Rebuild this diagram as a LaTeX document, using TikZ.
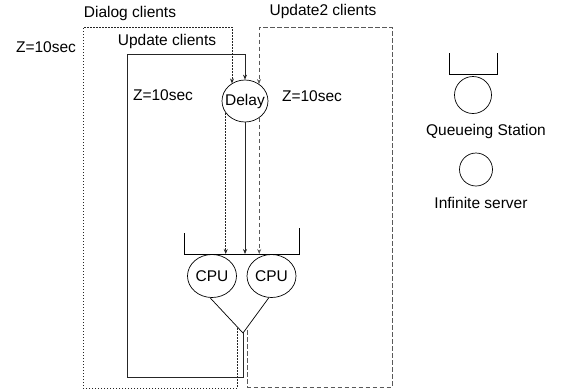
\documentclass[tikz,border=0pt]{standalone}
\usepackage{fontspec}
\setmainfont{Liberation Sans}
\usetikzlibrary{arrows.meta,shapes.geometric}
\begin{document}
\begin{tikzpicture}[x=1pt,y=-1pt,
  font=\fontsize{15.5}{18}\selectfont,
  every path/.style={line width=0.7pt},
  lbl/.style={inner sep=0pt, anchor=base},
  srv/.style={draw, ellipse, inner sep=0pt},
  tip/.style={-{Stealth[length=5pt,width=4pt]}},
  dotln/.style={draw=black!85, dash pattern=on 1.5pt off 1.5pt},
  dashln/.style={draw=black!65, dash pattern=on 4.5pt off 2.5pt},
  solln/.style={draw=black!85}]
\useasboundingbox (0,0) rectangle (570,389);

% labels
\node[lbl] (tdialog) at (130,17) {Dialog clients};
\node[lbl] (tupd) at (167,45) {Update clients};
\node[lbl] (tzl) at (46,52) {Z=10sec};
\node[lbl] (tzm) at (163,100) {Z=10sec};
\node[lbl] (tzr) at (312,101) {Z=10sec};
\node[lbl] (tupd2) at (323,15) {Update2 clients};

% stations
\node[srv, inner xsep=-3.7pt, minimum width=46pt, minimum height=42pt] (delay) at (245,101) {Delay};
\node[srv, minimum width=49pt, minimum height=43pt] (cpu1) at (212,276) {CPU};
\node[srv, minimum width=49pt, minimum height=43pt] (cpu2) at (271.5,276) {CPU};

% queue of CPUs
\coordinate (qtl) at (184,233);
\coordinate (qbl) at (184,254);
\coordinate (qbr) at (299,254);
\coordinate (qtr) at (299,228);
\draw (qtl) -- (qbl) -- (qbr) -- (qtr);

% join
\coordinate (join) at (243,333);
\draw (cpu1.-95) -- (join) -- (cpu2.-97);

% Update clients (solid)
\coordinate (s1) at (243,377);
\coordinate (s2) at (127,377);
\coordinate (s3) at (127,54);
\coordinate (s4) at (245,54);
\draw[solln,tip] (join) -- (s1) -- (s2) -- (s3) -- (s4) -- (delay.north);
\draw[solln,tip] (delay.south) -- (delay.south |- qbl);

% Dialog clients (dotted)
\coordinate (d0) at (237,328);
\coordinate (d1) at (237,388);
\coordinate (d2) at (83,388);
\coordinate (d3) at (83,27);
\coordinate (d4) at (232,27);
\draw[dotln,tip] (d0) -- (d1) -- (d2) -- (d3) -- (d4) -- (d4 |- delay.127);
\draw[dotln,tip] (delay.212) -- (delay.212 |- qbl);

% Update2 clients (dashed)
\coordinate (e0) at (247.5,330);
\coordinate (e1) at (247.5,387);
\coordinate (e2) at (392,387);
\coordinate (e3) at (392,27);
\coordinate (e4) at (259,27);
\draw[dashln,tip] (e0) -- (e1) -- (e2) -- (e3) -- (e4) -- (e4 |- delay.50);
\draw[dashln,tip] (delay.-50) -- (delay.-50 |- qbl);

% legend
\coordinate (la) at (449,53);
\coordinate (lb) at (449,74);
\coordinate (lc) at (497,74);
\coordinate (ld) at (497,53);
\draw (la) -- (lb) -- (lc) -- (ld);
\node[draw, circle, minimum size=37pt, inner sep=0pt] (qs) at (473,95) {};
\node[lbl] (tqs) at (486,135) {Queueing Station};
\node[draw, circle, minimum size=33pt, inner sep=0pt] (inf) at (476,169.5) {};
\node[lbl] (tinf) at (481,208) {Infinite server};
\end{tikzpicture}
\end{document}
